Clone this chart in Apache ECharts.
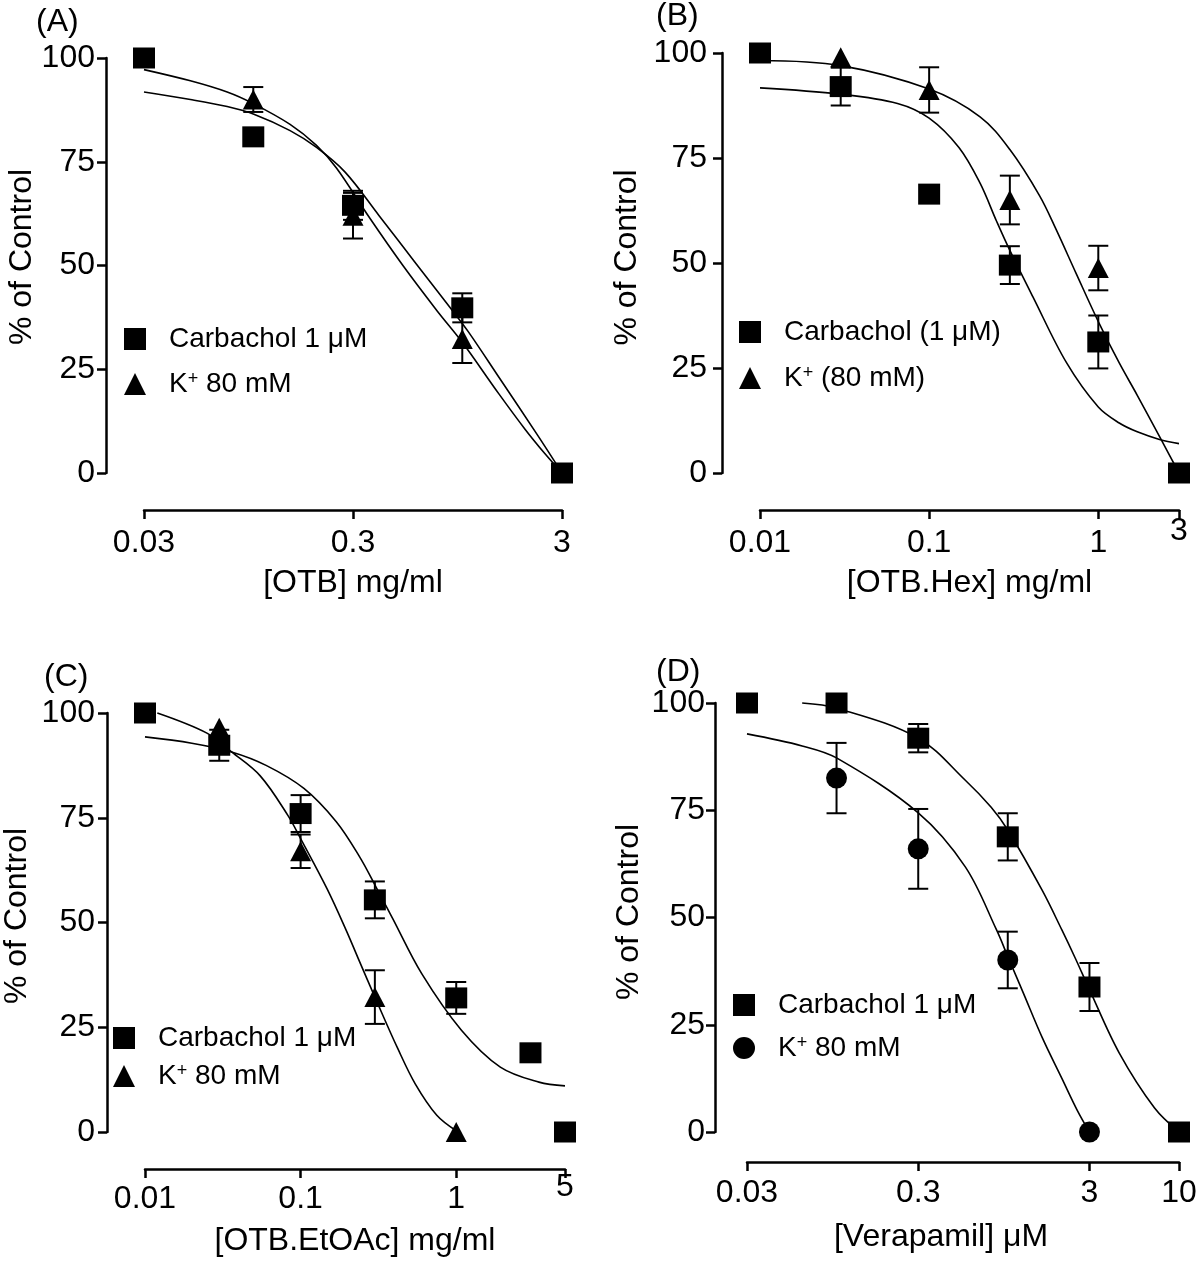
<!DOCTYPE html>
<html><head><meta charset="utf-8">
<script src="https://cdn.jsdelivr.net/npm/echarts@6/dist/echarts.min.js"></script>
<style>html,body{margin:0;padding:0;background:#fff}#c{width:1200px;height:1264px}</style>
</head><body><div id="c"></div>
<script>
// ---------- Panel A: [OTB] ----------
const xA = [0.03, 0.1, 0.3, 1, 3];
const carbA = [100, 81, 64.5, 39.8, 0];
const carbA_sem = [0, 0, 3.5, 3.5, 0];
const kA = [100, 90, 62, 32.3, 0];
const kA_sem = [0, 3, 5.5, 5.8, 0];
const fitA_carb_x = [0.03, 0.05, 0.075, 0.1, 0.15, 0.2, 0.275, 0.4, 0.6, 0.87, 1.07, 1.5, 2.3, 3];
const fitA_carb_y = [91.8, 90, 88.3, 86.5, 82.5, 78.5, 72.5, 62, 50.5, 40, 34, 23, 9, 0];
const fitA_k_x = [0.03, 0.05, 0.075, 0.1, 0.15, 0.2, 0.25, 0.36, 0.52, 0.76, 1, 1.5, 2, 2.5, 3];
const fitA_k_y = [97.2, 94.5, 91.8, 89, 84, 79, 73.5, 61.5, 50, 39, 31.5, 19, 10.5, 4.5, 0];
const ticksA = [0.03, 0.3, 3];
const tickLabelsA = ['0.03', '0.3', '3'];

// ---------- Panel B: [OTB.Hex] ----------
const xB = [0.01, 0.03, 0.1, 0.3, 1, 3];
const carbB = [100, 92, 66.4, 49.5, 31.2, 0];
const carbB_sem = [0, 4.5, 0, 4.5, 6.3, 0];
const kB = [100, 99, 91.2, 65, 48.8, 0];
const kB_sem = [0, 0, 5.4, 5.8, 5.3, 0];
const fitB_carb_x = [0.01, 0.03, 0.065, 0.1, 0.15, 0.2, 0.25, 0.3, 0.41, 0.65, 1, 1.33, 1.7, 2.3, 3];
const fitB_carb_y = [91.7, 90.2, 88, 84.5, 77.5, 69, 60, 53, 42, 26.2, 15.7, 11.9, 9.8, 8, 7];
const fitB_k_x = [0.01, 0.03, 0.1, 0.2, 0.3, 0.45, 0.563, 0.738, 1.01, 1.33, 1.7, 2.35, 3];
const fitB_k_y = [98.2, 97, 91.4, 84.8, 77, 66, 58, 47.6, 35.7, 26.2, 18.5, 8, 0];
const ticksB = [0.01, 0.1, 1, 3];
const tickLabelsB = ['0.01', '0.1', '1', '3'];

// ---------- Panel C: [OTB.EtOAc] ----------
const xC = [0.01, 0.03, 0.1, 0.3, 1, 3, 5];
const carbC = [100, 92.3, 76, 55.4, 32, 18.9, 0];
const carbC_sem = [0, 3.7, 4.4, 4.4, 3.8, 0, 0];
const xCk = [0.03, 0.1, 0.3, 1];
const kC = [96.5, 67, 32.2, 0];
const kC_sem = [0, 4, 6.4, 0];
const fitC_carb_x = [0.01, 0.02, 0.036, 0.06, 0.105, 0.17, 0.24, 0.3, 0.39, 0.6, 1.08, 1.92, 3.4, 5];
const fitC_carb_y = [94.3, 92.8, 90.7, 87.5, 82, 74, 65.6, 59, 51, 37.8, 24.3, 15.5, 11.9, 11];
const fitC_k_x = [0.012, 0.025, 0.036, 0.055, 0.083, 0.1, 0.148, 0.197, 0.234, 0.31, 0.42, 0.545, 0.75, 1];
const fitC_k_y = [100, 95.2, 90.7, 85, 75.5, 70, 58, 48, 41.5, 31, 20, 11.5, 4, 0.3];
const ticksC = [0.01, 0.1, 1, 5];
const tickLabelsC = ['0.01', '0.1', '1', '5'];

// ---------- Panel D: [Verapamil] ----------
const xD = [0.03, 0.1, 0.3, 1, 3, 10];
const carbD = [100, 100, 91.8, 68.8, 33.8, 0];
const carbD_sem = [0, 0, 3.3, 5.5, 5.6, 0];
const xDk = [0.1, 0.3, 1, 3];
const kD = [82.5, 66, 40.1, 0];
const kD_sem = [8.2, 9.3, 6.6, 0];
const fitD_carb_x = [0.063, 0.1, 0.3, 0.565, 0.8, 1, 1.59, 2.07, 2.48, 3, 4.48, 7.2, 10];
const fitD_carb_y = [100, 98.8, 91.8, 82, 75.7, 70.4, 56.3, 47.1, 40.5, 33.2, 18.4, 5.6, 0];
const fitD_k_x = [0.03, 0.063, 0.1, 0.3, 0.565, 0.86, 1.01, 1.23, 1.59, 2.07, 2.55, 3];
const fitD_k_y = [92.8, 90, 87.2, 74.4, 61.8, 47.1, 40.5, 32.5, 22, 12.5, 5, 0];
const ticksD = [0.03, 0.3, 3, 10];
const tickLabelsD = ['0.03', '0.3', '3', '10'];

// ---------- shared text ----------
const yTicks = [0, 25, 50, 75, 100];
const yTitle = '% of Control';
const panelLabels = ['(A)', '(B)', '(C)', '(D)'];
const xTitles = ['[OTB] mg/ml', '[OTB.Hex] mg/ml', '[OTB.EtOAc] mg/ml', '[Verapamil] \u03BCM'];
const carbNames = ['Carbachol 1 \u03BCM', 'Carbachol (1 \u03BCM)', 'Carbachol 1 \u03BCM', 'Carbachol 1 \u03BCM'];
const kNames = ['K\u207A 80 mM', 'K\u207A (80 mM)', 'K\u207A 80 mM', 'K\u207A 80 mM'];

// ---------- layout (styles only) ----------
const FONT = '"Liberation Sans", Arial, Helvetica, sans-serif';
const panels = [
  {xs: xA, carb: carbA, carbSem: carbA_sem, kx: xA, k: kA, kSem: kA_sem,
   fcx: fitA_carb_x, fcy: fitA_carb_y, fkx: fitA_k_x, fky: fitA_k_y,
   ticks: ticksA, labels: tickLabelsA, kSym: 'triangle', raiseLast: false,
   grid: {left: 144, top: 58, width: 418, height: 415}, yOff: 38, xOff: 37,
   yMargin: 11, xGap: 22, yNameGap: 63, yNamePad: 17, xNameGap: 57, xNamePad: 0,
   leg: {left: 124, top: 325, gap: 17}, title: {left: 36, top: 6}},
  {xs: xB, carb: carbB, carbSem: carbB_sem, kx: xB, k: kB, kSem: kB_sem,
   fcx: fitB_carb_x, fcy: fitB_carb_y, fkx: fitB_k_x, fky: fitB_k_y,
   ticks: ticksB, labels: tickLabelsB, kSym: 'triangle', raiseLast: true,
   grid: {left: 760, top: 53, width: 419, height: 420}, yOff: 38, xOff: 37,
   yMargin: 15, xGap: 22, yNameGap: 79, yNamePad: 11, xNameGap: 57, xNamePad: 0,
   leg: {left: 739, top: 318, gap: 18}, title: {left: 656, top: 0}},
  {xs: xC, carb: carbC, carbSem: carbC_sem, kx: xCk, k: kC, kSem: kC_sem,
   fcx: fitC_carb_x, fcy: fitC_carb_y, fkx: fitC_k_x, fky: fitC_k_y,
   ticks: ticksC, labels: tickLabelsC, kSym: 'triangle', raiseLast: true,
   grid: {left: 145, top: 713, width: 420, height: 419}, yOff: 38, xOff: 37,
   yMargin: 12, xGap: 19, yNameGap: 74, yNamePad: 13, xNameGap: 56, xNamePad: 0,
   leg: {left: 113, top: 1024, gap: 10}, title: {left: 44, top: 661}},
  {xs: xD, carb: carbD, carbSem: carbD_sem, kx: xDk, k: kD, kSem: kD_sem,
   fcx: fitD_carb_x, fcy: fitD_carb_y, fkx: fitD_k_x, fky: fitD_k_y,
   ticks: ticksD, labels: tickLabelsD, kSym: 'circle', raiseLast: false,
   grid: {left: 747, top: 703, width: 432, height: 429}, yOff: 32, xOff: 30,
   yMargin: 10, xGap: 20, yNameGap: 70, yNamePad: 11, xNameGap: 59, xNamePad: 44,
   leg: {left: 733, top: 991, gap: 15}, title: {left: 656, top: 656}}
];

const zip = (a, b) => a.map((v, i) => [v, b[i]]);
const errData = (x, y, s) => x.map((v, i) => [v, y[i] - s[i], y[i] + s[i]]).filter((d, i) => s[i] > 0);

function errItem(params, api) {
  const x = api.value(0);
  const lo = api.coord([x, api.value(1)]);
  const hi = api.coord([x, api.value(2)]);
  const w = 10;
  const st = {stroke: '#000', lineWidth: 2};
  return {type: 'group', children: [
    {type: 'line', shape: {x1: lo[0], y1: lo[1], x2: hi[0], y2: hi[1]}, style: st},
    {type: 'line', shape: {x1: lo[0] - w, y1: lo[1], x2: lo[0] + w, y2: lo[1]}, style: st},
    {type: 'line', shape: {x1: hi[0] - w, y1: hi[1], x2: hi[0] + w, y2: hi[1]}, style: st}
  ]};
}

const grids = [], xAxes = [], yAxes = [], series = [], legends = [], titles = [];
panels.forEach((p, i) => {
  grids.push(Object.assign({containLabel: false}, p.grid));
  const P = 12;
  xAxes.push({
    type: 'log', logBase: 10, gridIndex: i,
    min: p.ticks[0], max: p.ticks[p.ticks.length - 1],
    offset: p.xOff, position: 'bottom',
    axisLine: {onZero: false, lineStyle: {color: '#000', width: 2.5}},
    axisTick: {customValues: p.ticks, length: 9, lineStyle: {color: '#000', width: 2.5}},
    minorTick: {show: false}, splitLine: {show: false}, minorSplitLine: {show: false},
    axisLabel: {
      customValues: p.ticks, margin: p.xGap - 5 - P, color: '#000', fontSize: 32, fontFamily: FONT,
      showMinLabel: true, showMaxLabel: true, hideOverlap: false,
      formatter: (v) => {
        let idx = 0, best = 1e9;
        p.ticks.forEach((t, j) => { const d = Math.abs(Math.log10(t) - Math.log10(v)); if (d < best) { best = d; idx = j; } });
        const raised = p.raiseLast && idx === p.ticks.length - 1;
        return (raised ? '{r|' : '{n|') + p.labels[idx] + '}';
      },
      rich: {
        n: {fontSize: 32, fontFamily: FONT, color: '#000', padding: [P, 0, 0, 0]},
        r: {fontSize: 32, fontFamily: FONT, color: '#000', padding: [0, 0, 0, 0]}
      }
    },
    name: xTitles[i], nameLocation: 'middle', nameGap: p.xNameGap,
    nameTextStyle: {fontSize: 32, fontFamily: FONT, color: '#000', padding: [0, p.xNamePad, 0, 0]}
  });
  yAxes.push({
    type: 'value', gridIndex: i, min: 0, max: 100, interval: 25,
    offset: p.yOff, position: 'left',
    axisLine: {show: true, onZero: false, lineStyle: {color: '#000', width: 2.5}},
    axisTick: {show: true, length: 9, lineStyle: {color: '#000', width: 2.5}},
    splitLine: {show: false},
    axisLabel: {margin: p.yMargin, color: '#000', fontSize: 32, fontFamily: FONT,
      formatter: (v) => String(yTicks[yTicks.indexOf(v)])},
    name: yTitle, nameLocation: 'middle', nameGap: p.yNameGap,
    nameTextStyle: {fontSize: 32, fontFamily: FONT, color: '#000', padding: [0, 0, 0, p.yNamePad]}
  });
  const lineStyle = {color: '#000', width: 1.6};
  series.push({type: 'line', name: carbNames[i] + ' fit', xAxisIndex: i, yAxisIndex: i,
    data: zip(p.fcx, p.fcy), showSymbol: false, symbol: 'none', smooth: 0.35, clip: false,
    lineStyle, silent: true, z: 2});
  series.push({type: 'line', name: kNames[i] + ' fit', xAxisIndex: i, yAxisIndex: i,
    data: zip(p.fkx, p.fky), showSymbol: false, symbol: 'none', smooth: 0.35, clip: false,
    lineStyle, silent: true, z: 2});
  series.push({type: 'custom', name: carbNames[i] + ' SEM', xAxisIndex: i, yAxisIndex: i,
    data: errData(p.xs, p.carb, p.carbSem), renderItem: errItem, encode: {x: 0, y: [1, 2]}, silent: true, z: 3});
  series.push({type: 'custom', name: kNames[i] + ' SEM', xAxisIndex: i, yAxisIndex: i,
    data: errData(p.kx, p.k, p.kSem), renderItem: errItem, encode: {x: 0, y: [1, 2]}, silent: true, z: 3});
  series.push({type: 'scatter', name: kNames[i], xAxisIndex: i, yAxisIndex: i,
    data: zip(p.kx, p.k), symbol: p.kSym, symbolSize: p.kSym === 'circle' ? [21, 21] : [21, 20],
    itemStyle: {color: '#000', opacity: 1}, clip: false, z: 4});
  series.push({type: 'scatter', name: carbNames[i], xAxisIndex: i, yAxisIndex: i,
    data: zip(p.xs, p.carb), symbol: 'rect', symbolSize: [22, 21],
    itemStyle: {color: '#000', opacity: 1}, clip: false, z: 5});
  legends.push({
    orient: 'vertical', left: p.leg.left, top: p.leg.top, itemGap: p.leg.gap, padding: 0,
    itemWidth: 22, itemHeight: 22, selectedMode: false,
    data: [{name: carbNames[i], icon: 'rect'}, {name: kNames[i], icon: p.kSym}],
    itemStyle: {color: '#000', opacity: 1},
    formatter: (n) => n.replace('\u207A', '{sup|+}'),
    textStyle: {fontSize: 28, fontFamily: FONT, color: '#000', padding: [0, 0, 0, 18],
      rich: {sup: {fontSize: 18, fontFamily: FONT, color: '#000', verticalAlign: 'top'}}}
  });
  titles.push({text: panelLabels[i], left: p.title.left, top: p.title.top, padding: 0,
    textStyle: {fontSize: 32, fontWeight: 'normal', fontFamily: FONT, color: '#000'}});
});

const chart = echarts.init(document.getElementById('c'), null, {renderer: 'canvas'});
chart.setOption({
  animation: false, backgroundColor: '#fff',
  title: titles, grid: grids, xAxis: xAxes, yAxis: yAxes, legend: legends, series
});
</script></body></html>
